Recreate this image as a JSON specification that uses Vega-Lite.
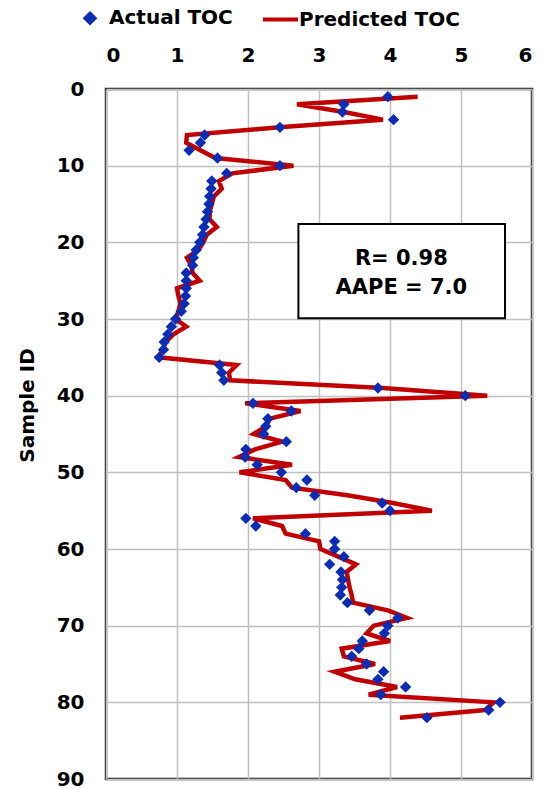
{
  "$schema": "https://vega.github.io/schema/vega-lite/v6.json",
  "width": 426,
  "height": 690,
  "autosize": "none",
  "padding": {"left": 106, "top": 89, "right": 9, "bottom": 10},
  "background": "white",
  "config": {
    "font": "DejaVu Sans",
    "view": {"stroke": "#222222", "strokeWidth": 2.5},
    "axis": {
      "labelFont": "DejaVu Sans",
      "labelFontSize": 20,
      "labelFontWeight": "bold",
      "labelColor": "#000000",
      "ticks": false,
      "domain": false,
      "gridColor": "#c0c0c0",
      "gridWidth": 1.5,
      "titleFont": "DejaVu Sans",
      "titleFontSize": 20,
      "titleFontWeight": "bold",
      "titleColor": "#000000"
    }
  },
  "datasets": {
    "toc": [
      {"id": 1, "actual": 3.97, "predicted": 4.39},
      {"id": 2, "actual": 3.35, "predicted": 2.69},
      {"id": 3, "actual": 3.33, "predicted": 3.35},
      {"id": 4, "actual": 4.05, "predicted": 3.9},
      {"id": 5, "actual": 2.45, "predicted": 2.44},
      {"id": 6, "actual": 1.39, "predicted": 1.14},
      {"id": 7, "actual": 1.33, "predicted": 1.13},
      {"id": 8, "actual": 1.17, "predicted": 1.33},
      {"id": 9, "actual": 1.57, "predicted": 1.54},
      {"id": 10, "actual": 2.45, "predicted": 2.64},
      {"id": 11, "actual": 1.7, "predicted": 1.78},
      {"id": 12, "actual": 1.49, "predicted": 1.59},
      {"id": 13, "actual": 1.48, "predicted": 1.63},
      {"id": 14, "actual": 1.46, "predicted": 1.52},
      {"id": 15, "actual": 1.45, "predicted": 1.49},
      {"id": 16, "actual": 1.43, "predicted": 1.46},
      {"id": 17, "actual": 1.41, "predicted": 1.46},
      {"id": 18, "actual": 1.38, "predicted": 1.56},
      {"id": 19, "actual": 1.36, "predicted": 1.42},
      {"id": 20, "actual": 1.32, "predicted": 1.37},
      {"id": 21, "actual": 1.27, "predicted": 1.3},
      {"id": 22, "actual": 1.23, "predicted": 1.14},
      {"id": 23, "actual": 1.22, "predicted": 1.2},
      {"id": 24, "actual": 1.13, "predicted": 1.22},
      {"id": 25, "actual": 1.13, "predicted": 1.32},
      {"id": 26, "actual": 1.13, "predicted": 1.0},
      {"id": 27, "actual": 1.12, "predicted": 1.02},
      {"id": 28, "actual": 1.1, "predicted": 1.05},
      {"id": 29, "actual": 1.06, "predicted": 1.02},
      {"id": 30, "actual": 0.98, "predicted": 0.98},
      {"id": 31, "actual": 0.92, "predicted": 1.13},
      {"id": 32, "actual": 0.87, "predicted": 0.95},
      {"id": 33, "actual": 0.82, "predicted": 0.84},
      {"id": 34, "actual": 0.81, "predicted": 0.8},
      {"id": 35, "actual": 0.75, "predicted": 0.74},
      {"id": 36, "actual": 1.6, "predicted": 1.84},
      {"id": 37, "actual": 1.63, "predicted": 1.73},
      {"id": 38, "actual": 1.66, "predicted": 1.75},
      {"id": 39, "actual": 3.83, "predicted": 3.9},
      {"id": 40, "actual": 5.06, "predicted": 5.37},
      {"id": 41, "actual": 2.07, "predicted": 1.96},
      {"id": 42, "actual": 2.61, "predicted": 2.74},
      {"id": 43, "actual": 2.28, "predicted": 2.31},
      {"id": 44, "actual": 2.25, "predicted": 2.25},
      {"id": 45, "actual": 2.22, "predicted": 2.08},
      {"id": 46, "actual": 2.54, "predicted": 2.48},
      {"id": 47, "actual": 1.97, "predicted": 2.1},
      {"id": 48, "actual": 1.96, "predicted": 1.87},
      {"id": 49, "actual": 2.13, "predicted": 2.62},
      {"id": 50, "actual": 2.47, "predicted": 1.88},
      {"id": 51, "actual": 2.83, "predicted": 2.53},
      {"id": 52, "actual": 2.68, "predicted": 2.62},
      {"id": 53, "actual": 2.94, "predicted": 3.4},
      {"id": 54, "actual": 3.89, "predicted": 4.04},
      {"id": 55, "actual": 4.0, "predicted": 4.59},
      {"id": 56, "actual": 1.97, "predicted": 2.07},
      {"id": 57, "actual": 2.11, "predicted": 2.48},
      {"id": 58, "actual": 2.81, "predicted": 2.53},
      {"id": 59, "actual": 3.22, "predicted": 3.0},
      {"id": 60, "actual": 3.22, "predicted": 3.02},
      {"id": 61, "actual": 3.35, "predicted": 3.27},
      {"id": 62, "actual": 3.15, "predicted": 3.52},
      {"id": 63, "actual": 3.31, "predicted": 3.39},
      {"id": 64, "actual": 3.33, "predicted": 3.41},
      {"id": 65, "actual": 3.32, "predicted": 3.43},
      {"id": 66, "actual": 3.3, "predicted": 3.46},
      {"id": 67, "actual": 3.4, "predicted": 3.48},
      {"id": 68, "actual": 3.71, "predicted": 3.97},
      {"id": 69, "actual": 4.11, "predicted": 4.24},
      {"id": 70, "actual": 3.97, "predicted": 3.77},
      {"id": 71, "actual": 3.92, "predicted": 3.67},
      {"id": 72, "actual": 3.61, "predicted": 4.0},
      {"id": 73, "actual": 3.56, "predicted": 3.32},
      {"id": 74, "actual": 3.46, "predicted": 3.35},
      {"id": 75, "actual": 3.67, "predicted": 3.79},
      {"id": 76, "actual": 3.91, "predicted": 3.22},
      {"id": 77, "actual": 3.83, "predicted": 3.51},
      {"id": 78, "actual": 4.22, "predicted": 4.1},
      {"id": 79, "actual": 3.87, "predicted": 3.7},
      {"id": 80, "actual": 5.55, "predicted": 5.46},
      {"id": 81, "actual": 5.39, "predicted": 5.34},
      {"id": 82, "actual": 4.52, "predicted": 4.14}
    ],
    "box": [
      {"toc": 2.71, "toc2": 5.62, "id": 17.6, "id2": 29.9}
    ],
    "stats": [
      {"toc": 4.16, "id": 22.2, "label": "R= 0.98"},
      {"toc": 4.16, "id": 25.9, "label": "AAPE = 7.0"}
    ]
  },
  "encoding": {
    "y": {
      "field": "id",
      "type": "quantitative",
      "scale": {"domain": [0, 90], "reverse": true, "nice": false, "zero": false},
      "axis": {"values": [0, 10, 20, 30, 40, 50, 60, 70, 80, 90], "title": "Sample ID", "labelPadding": 22, "titlePadding": 19, "titleY": 316}
    },
    "x": {
      "field": "toc",
      "type": "quantitative",
      "scale": {"domain": [0, 6], "nice": false},
      "axis": {"orient": "top", "values": [0, 1, 2, 3, 4, 5, 6], "title": null, "labelPadding": 24}
    }
  },
  "layer": [
    {
      "data": {"name": "box"},
      "mark": {"type": "rect", "fill": "#ffffff", "stroke": "#000000", "strokeWidth": 2},
      "encoding": {
        "x2": {"field": "toc2"},
        "y2": {"field": "id2"}
      }
    },
    {
      "data": {"name": "stats"},
      "mark": {"type": "text", "font": "DejaVu Sans", "fontSize": 21, "fontWeight": "bold", "color": "#000000", "align": "center", "baseline": "middle"},
      "encoding": {
        "text": {"field": "label", "type": "nominal"}
      }
    },
    {
      "data": {"name": "toc"},
      "transform": [
        {"fold": ["actual", "predicted"], "as": ["series", "toc"]},
        {"filter": "datum.series === 'predicted'"}
      ],
      "mark": {"type": "line", "strokeWidth": 4.5},
      "encoding": {
        "order": {"field": "id", "type": "quantitative"},
        "color": {
          "field": "series",
          "type": "nominal",
          "scale": {"domain": ["actual", "predicted"], "range": ["#0b2db5", "#c00000"]},
          "legend": {
            "orient": "none",
            "legendX": -17,
            "legendY": -81,
            "direction": "horizontal",
            "title": null,
            "labelExpr": "datum.value === 'actual' ? 'Actual TOC' : 'Predicted TOC'",
            "labelFont": "DejaVu Sans",
            "labelFontSize": 20,
            "labelFontWeight": "bold",
            "labelColor": "#000000",
            "labelLimit": 400,
            "labelOffset": 0,
            "columnPadding": 22,
            "symbolSize": 100,
            "encode": {
              "symbols": {
                "update": {
                  "shape": {"signal": "datum.value === 'actual' ? 'M-1.8,-0.9L-0.9,0L-1.8,0.9L-2.7,0Z' : 'M-5.2,0L1.8,0'"},
                  "fill": {"signal": "datum.value === 'actual' ? '#0b2db5' : 'transparent'"},
                  "stroke": {"signal": "datum.value === 'actual' ? 'transparent' : '#c00000'"},
                  "strokeWidth": {"value": 4},
                  "size": {"value": 100},
                  "opacity": {"value": 1}
                }
              }
            }
          }
        }
      }
    },
    {
      "data": {"name": "toc"},
      "transform": [
        {"fold": ["actual", "predicted"], "as": ["series", "toc"]},
        {"filter": "datum.series === 'actual'"}
      ],
      "mark": {"type": "point", "shape": "diamond", "filled": true, "size": 130, "opacity": 1},
      "encoding": {
        "color": {
          "field": "series",
          "type": "nominal",
          "scale": {"domain": ["actual", "predicted"], "range": ["#0b2db5", "#c00000"]}
        }
      }
    }
  ]
}
